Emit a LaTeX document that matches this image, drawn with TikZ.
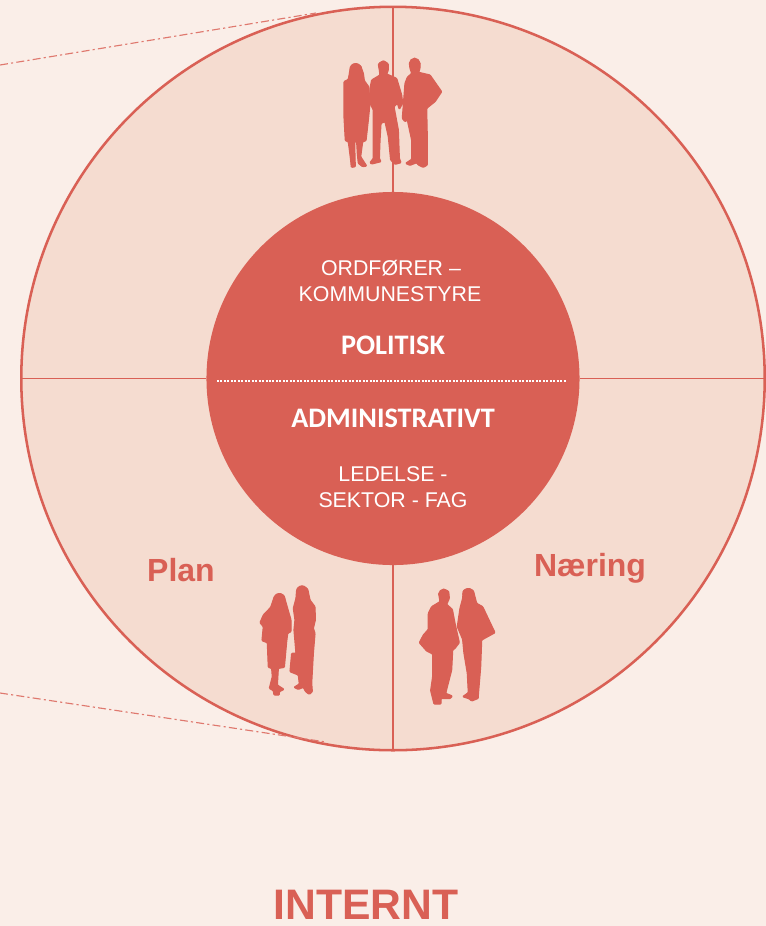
\documentclass[tikz,border=0pt]{standalone}
\usepackage{fontspec}
\setmainfont{Liberation Sans}
\newfontfamily\carl{Carlito}
\definecolor{bgc}{HTML}{FAEEE8}
\definecolor{sect}{HTML}{F5DCD0}
\definecolor{redc}{HTML}{D96055}
\tikzset{
  ringc/.style={circle,draw=redc,fill=sect,line width=1.9pt,minimum size=557.6pt,inner sep=0pt,outer sep=0pt},
  corec/.style={circle,fill=redc,minimum size=279.8pt,inner sep=0pt,outer sep=0pt},
  spoke/.style={draw=redc,line width=0.9pt},
  dashline/.style={draw=redc!85!white,line width=0.85pt,dash pattern=on 6pt off 2.4pt on 1.6pt off 2.4pt},
  person/.style={fill=redc,draw=redc,line width=0.9pt,rounded corners=0.6pt,line join=round},
  small/.style={text=white,font=\fontsize{16}{19}\selectfont,align=center,inner sep=0pt},
  head/.style={text=white,font=\carl\bfseries\fontsize{21.2}{25}\selectfont,inner sep=0pt},
  sector/.style={text=redc,font=\bfseries\fontsize{24}{28}\selectfont,inner sep=0pt}
}
\begin{document}
\begin{tikzpicture}[x=0.75pt,y=-0.75pt]
\useasboundingbox[fill=bgc] (0,0) rectangle (766,926);
\node[ringc] (outer) at (393,378.5) {};
\node[corec] (inner) at (393,378.5) {};
\coordinate (a1) at (0,65);
\coordinate (a2) at (316,13);
\coordinate (b1) at (0,693);
\coordinate (b2) at (326,742);
\draw[dashline] (a1) -- (a2);
\draw[dashline] (b1) -- (b2);
\draw[spoke] (outer.north) -- (inner.north);
\draw[spoke] (outer.south) -- (inner.south);
\draw[spoke] (outer.west) -- (inner.west);
\draw[spoke] (outer.east) -- (inner.east);
\coordinate (d1) at (217,381);
\coordinate (d2) at (567,381);
\draw[white,line width=1.6pt,dash pattern=on 1.5pt off 1.1pt] (d1) -- (d2);
\node[small] (t1) at (391,268) {ORDFØRER –};
\node[small] (t2) at (390,294) {KOMMUNESTYRE};
\node[head] (t3) at (393,345) {POLITISK};
\node[head] (t4) at (393,418) {ADMINISTRATIVT};
\node[small] (t5) at (393,474) {LEDELSE -};
\node[small] (t6) at (393,500) {SEKTOR - FAG};
\node[sector] (t7) at (181,570) {Plan};
\node[sector] (t8) at (590,568) {Næring};
\node[text=redc,inner sep=0pt,font=\bfseries\fontsize{32}{38}\selectfont] (t9) at (366,904.5) {INTERNT};
% top group
\begin{scope}[shift={(320,40)},x=0.25pt,y=-0.25pt]
\filldraw[person] (107,71)--(122,78)--(130,100)--(133,122)--(146,140)--(150,190)--(145,240)--(138,302)--(128,305)--(122,350)--(140,378)--(128,380)--(115,370)--(112,340)--(110,305)--(104,305)--(105,355)--(106,380)--(94,382)--(92,360)--(85,305)--(76,302)--(72,230)--(72,125)--(85,118)--(90,90)--cycle;
\filldraw[person] (175,72)--(190,62)--(205,72)--(205,90)--(200,102)--(230,115)--(245,165)--(248,190)--(238,208)--(232,190)--(222,200)--(235,270)--(238,355)--(243,368)--(225,373)--(212,360)--(205,290)--(195,245)--(183,250)--(180,300)--(178,355)--(183,365)--(155,372)--(150,368)--(160,355)--(160,260)--(160,210)--(150,190)--(150,145)--(155,120)--(180,105)--(178,90)--cycle;
\filldraw[person] (268,68)--(284,54)--(300,68)--(300,85)--(296,97)--(330,105)--(365,155)--(345,185)--(320,205)--(322,300)--(322,375)--(310,382)--(295,375)--(290,368)--(270,376)--(257,370)--(275,358)--(275,300)--(262,240)--(255,245)--(247,235)--(255,130)--(262,112)--(275,100)--(270,85)--cycle;
\fill[redc] (107,88) circle (19);
\fill[redc] (190,78) circle (16);
\fill[redc] (284,70) circle (17);
\end{scope}
% bottom groups
\begin{scope}[shift={(240,570)},x=0.25pt,y=-0.25pt]
\filldraw[person] (118,70)--(132,77)--(140,105)--(153,150)--(153,185)--(143,190)--(140,215)--(133,292)--(115,295)--(112,345)--(132,358)--(118,365)--(118,375)--(102,375)--(100,362)--(88,355)--(97,320)--(95,295)--(85,292)--(82,218)--(66,212)--(70,170)--(60,158)--(70,135)--(92,112)--(103,80)--cycle;
\filldraw[person] (186,48)--(203,57)--(210,90)--(225,110)--(226,150)--(220,175)--(225,190)--(220,250)--(215,340)--(217,365)--(208,373)--(197,365)--(190,352)--(175,358)--(162,352)--(178,342)--(175,315)--(150,305)--(155,250)--(168,250)--(162,180)--(165,150)--(160,115)--(168,85)--(170,60)--cycle;
\filldraw[person] (610,57)--(626,64)--(628,85)--(620,103)--(637,118)--(645,160)--(658,218)--(645,235)--(638,240)--(635,300)--(617,370)--(637,378)--(630,386)--(603,385)--(603,402)--(582,402)--(572,362)--(578,320)--(578,252)--(560,243)--(538,218)--(550,195)--(565,178)--(565,130)--(575,110)--(600,95)--(596,70)--cycle;
\filldraw[person] (685,55)--(700,62)--(710,100)--(728,110)--(765,188)--(725,210)--(722,290)--(715,375)--(715,385)--(695,393)--(687,386)--(668,380)--(685,368)--(682,310)--(672,250)--(668,208)--(652,170)--(660,115)--(668,85)--(670,62)--cycle;
\fill[redc] (611,72) circle (16);
\fill[redc] (186,64) circle (18);
\fill[redc] (685,72) circle (18);
\fill[redc] (118,87) circle (18);
\end{scope}
\end{tikzpicture}
\end{document}
